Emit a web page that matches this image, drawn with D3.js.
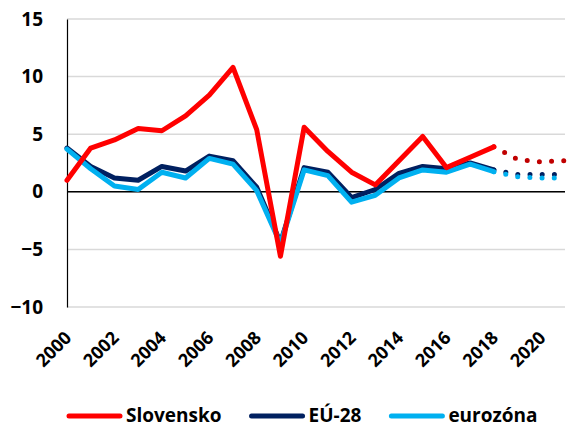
<!DOCTYPE html>
<html>
<head>
<meta charset="utf-8">
<script src="https://cdn.jsdelivr.net/npm/d3@7"></script>
<style>
  body { margin: 0; background: #fff; }
  text { font-family: "Open Sans", sans-serif; font-weight: bold; fill: #000; }
</style>
</head>
<body>
<div class="chart"></div>
<script>
// data
var years = [2000, 2001, 2002, 2003, 2004, 2005, 2006, 2007, 2008, 2009,
  2010, 2011, 2012, 2013, 2014, 2015, 2016, 2017, 2018];
var slovensko = [1.0, 3.8, 4.5, 5.5, 5.3, 6.6, 8.4, 10.8, 5.4, -5.6,
  5.6, 3.5, 1.7, 0.6, 2.7, 4.8, 2.1, 3.0, 3.9];
var eu28 = [3.8, 2.2, 1.2, 1.0, 2.2, 1.8, 3.1, 2.7, 0.4, -4.4,
  2.1, 1.7, -0.5, 0.2, 1.6, 2.2, 2.0, 2.5, 1.9];
var eurozona = [3.7, 2.0, 0.5, 0.2, 1.7, 1.2, 2.9, 2.4, 0.1, -4.5,
  1.9, 1.4, -0.9, -0.3, 1.2, 1.9, 1.7, 2.4, 1.75];

// forecast part (dotted)
var forecastYears = [2018, 2019, 2020, 2021];
var slovenskoF = [3.9, 2.8, 2.6, 2.7];
var eu28F = [1.9, 1.5, 1.5, 1.5];
var eurozonaF = [1.75, 1.3, 1.2, 1.2];

var yTicks = [-10, -5, 0, 5, 10, 15];
var xTicks = [2000, 2002, 2004, 2006, 2008, 2010, 2012, 2014, 2016, 2018, 2020];

var svgWidth = 572;
var svgHeight = 428;

var margin = {
  top: 19,
  right: 7,
  bottom: 121,
  left: 67
};

var width = svgWidth - margin.left - margin.right;
var height = svgHeight - margin.top - margin.bottom;

var svg = d3
  .select(".chart")
  .append("svg")
  .attr("width", svgWidth)
  .attr("height", svgHeight);

var chartGroup = svg.append("g")
  .attr("transform", `translate(${margin.left}, ${margin.top})`);

var xLinearScale = d3.scaleLinear()
  .domain([2000, 2021])
  .range([0, width]);

var yLinearScale = d3.scaleLinear()
  .domain([-10, 15])
  .range([height, 0]);

// gridlines
chartGroup.selectAll(".grid")
  .data(yTicks)
  .enter()
  .append("line")
  .attr("x1", 0)
  .attr("x2", width)
  .attr("y1", d => yLinearScale(d))
  .attr("y2", d => yLinearScale(d))
  .attr("stroke", "#d9d9d9")
  .attr("stroke-width", 1.5);

// y axis
var leftAxis = d3.axisLeft(yLinearScale)
  .tickValues(yTicks)
  .tickSize(0)
  .tickPadding(24);

var yAxis = chartGroup.append("g")
  .call(leftAxis);
yAxis.select(".domain").attr("stroke", "#000").attr("stroke-width", 1.2);
yAxis.selectAll("text")
  .style("font-size", "19px")
  .style("font-family", "'Open Sans', sans-serif")
  .style("font-weight", "bold")
  .attr("fill", "#000");

// x labels, rotated
var bottomAxis = d3.axisBottom(xLinearScale)
  .tickValues(xTicks)
  .tickFormat(d3.format("d"))
  .tickSize(0);

var xAxis = chartGroup.append("g")
  .attr("transform", `translate(0, ${height})`)
  .call(bottomAxis);
xAxis.select(".domain").remove();
xAxis.selectAll("text")
  .style("font-size", "18px")
  .style("font-family", "'Open Sans', sans-serif")
  .style("font-weight", "bold")
  .attr("fill", "#000")
  .attr("text-anchor", "end")
  .attr("dy", null)
  .attr("y", 0)
  .attr("transform", "translate(5, 32) rotate(-45)");

// zero line
chartGroup.append("line")
  .attr("x1", 0)
  .attr("x2", width)
  .attr("y1", yLinearScale(0))
  .attr("y2", yLinearScale(0))
  .attr("stroke", "#000")
  .attr("stroke-width", 1.5);

var lineGen = d3.line()
  .x(d => xLinearScale(d[0]))
  .y(d => yLinearScale(d[1]));

var series = [
  { name: "EÚ-28", values: eu28, forecast: eu28F, color: "#002060", fcolor: "#002060" },
  { name: "eurozóna", values: eurozona, forecast: eurozonaF, color: "#00b0f0", fcolor: "#00b0f0" },
  { name: "Slovensko", values: slovensko, forecast: slovenskoF, color: "#ff0000", fcolor: "#c00000" }
];

// dotted forecasts
chartGroup.selectAll(".forecast")
  .data(series)
  .enter()
  .append("path")
  .attr("d", s => lineGen(forecastYears.map((y, i) => [y, s.forecast[i]])))
  .attr("fill", "none")
  .attr("stroke", s => s.fcolor)
  .attr("stroke-width", 5)
  .attr("stroke-linecap", "round")
  .attr("stroke-dasharray", "0 12.2");

// solid lines
chartGroup.selectAll(".series")
  .data(series)
  .enter()
  .append("path")
  .attr("d", s => lineGen(years.map((y, i) => [y, s.values[i]])))
  .attr("fill", "none")
  .attr("stroke", s => s.color)
  .attr("stroke-width", 5)
  .attr("stroke-linejoin", "round")
  .attr("stroke-linecap", "round");

// legend
var legendOrder = [series[2], series[0], series[1]];
var legendGroup = svg.append("g")
  .attr("transform", "translate(67, 416)");
var lx = 0;
legendOrder.forEach(function(s) {
  legendGroup.append("line")
    .attr("x1", lx + 2)
    .attr("x2", lx + 53)
    .attr("y1", 0)
    .attr("y2", 0)
    .attr("stroke", s.color)
    .attr("stroke-width", 5)
    .attr("stroke-linecap", "round");
  var t = legendGroup.append("text")
    .attr("x", lx + 59)
    .attr("y", 6)
    .style("font-size", "19px")
    .text(s.name);
  lx += 59 + t.node().getComputedTextLength() + 28;
});
</script>
</body>
</html>
